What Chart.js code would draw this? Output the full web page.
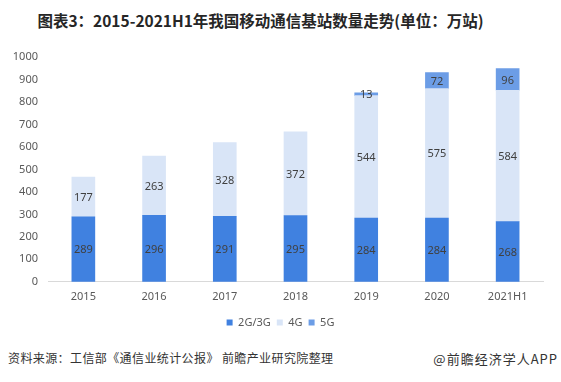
<!DOCTYPE html>
<html>
<head>
<meta charset="utf-8">
<script src="https://cdn.jsdelivr.net/npm/chart.js@4"></script>
<style>
  html, body { margin: 0; padding: 0; background: #fff; }
  body { width: 561px; height: 382px; position: relative; overflow: hidden; font-family: "Noto Sans CJK SC", "Noto Sans", sans-serif; }
  #title { position: absolute; left: -20px; top: 9px; width: 561px; text-align: center; font-size: 15.5px; font-weight: bold; color: #262626; }
  #wrap { position: absolute; left: 0; top: 0; width: 561px; height: 340px; }
  .foot { position: absolute; top: 349px; font-size: 12px; color: #333; }
</style>
</head>
<body>
<div id="title">图表3：2015-2021H1年我国移动通信基站数量走势(单位：万站)</div>
<div id="wrap"><canvas id="chart"></canvas></div>
<div class="foot" style="left:8px; letter-spacing:0.4px">资料来源：工信部《通信业统计公报》 前瞻产业研究院整理</div>
<div class="foot" style="right:3px; font-size:13px; letter-spacing:1px">@前瞻经济学人APP</div>
<script>
/* ============================
   DATA
   ============================ */
const years = ['2015', '2016', '2017', '2018', '2019', '2020', '2021H1'];
const seriesNames = ['2G/3G', '4G', '5G'];
const base23 = [289, 296, 291, 295, 284, 284, 268];
const base4g = [177, 263, 328, 372, 544, 575, 584];
const base5g = [null, null, null, null, 13, 72, 96];
const yTicks = [0, 100, 200, 300, 400, 500, 600, 700, 800, 900, 1000];

const colors = ['#4081e0', '#d9e5f7', '#6c9de6'];

// draws the value inside each stacked segment
const segmentLabels = {
  id: 'segmentLabels',
  afterDatasetsDraw(chart) {
    const ctx = chart.ctx;
    ctx.save();
    ctx.font = '11px "Noto Sans", sans-serif';
    ctx.fillStyle = '#404040';
    ctx.textAlign = 'center';
    ctx.textBaseline = 'middle';
    chart.data.datasets.forEach((ds, di) => {
      chart.getDatasetMeta(di).data.forEach((bar, i) => {
        const v = ds.data[i];
        if (v == null) return;
        const mid = (bar.y + bar.base) / 2;
        ctx.fillText(String(v), bar.x, mid + 1);
      });
    });
    ctx.restore();
  }
};

// centre the legend on the whole canvas rather than the padded area
const legendCentre = {
  id: 'legendCentre',
  afterLayout(chart) {
    chart.legend.left += 9;
    chart.legend.right += 9;
  }
};

new Chart(document.getElementById('chart'), {
  type: 'bar',
  data: {
    labels: years,
    datasets: [
      { label: seriesNames[0], data: base23, backgroundColor: colors[0] },
      { label: seriesNames[1], data: base4g, backgroundColor: colors[1] },
      { label: seriesNames[2], data: base5g, backgroundColor: colors[2] }
    ]
  },
  options: {
    responsive: true,
    maintainAspectRatio: false,
    animation: false,
    layout: { padding: { top: 57, right: 18, left: 0, bottom: 2 } },
    datasets: { bar: { barThickness: 23 } },
    plugins: {
      tooltip: { enabled: false },
      legend: {
        position: 'bottom',
        labels: { color: '#595959', font: { size: 11, family: '"Noto Sans", sans-serif' }, boxWidth: 6, boxHeight: 6, padding: 6 }
      }
    },
    scales: {
      x: {
        stacked: true,
        grid: { display: false, drawTicks: false },
        border: { color: '#d9d9d9' },
        ticks: { color: '#595959', font: { size: 11, family: '"Noto Sans", sans-serif' }, padding: 8 }
      },
      y: {
        stacked: true,
        min: 0,
        max: 1000,
        afterFit(axis) { axis.width = 48; },
        afterBuildTicks(axis) { axis.ticks = yTicks.map(v => ({ value: v })); },
        grid: { display: false, drawTicks: false },
        border: { display: false },
        ticks: { color: '#595959', font: { size: 11, family: '"Noto Sans", sans-serif' }, padding: 10, callback: v => String(v) }
      }
    }
  },
  plugins: [segmentLabels, legendCentre]
});
</script>
</body>
</html>
